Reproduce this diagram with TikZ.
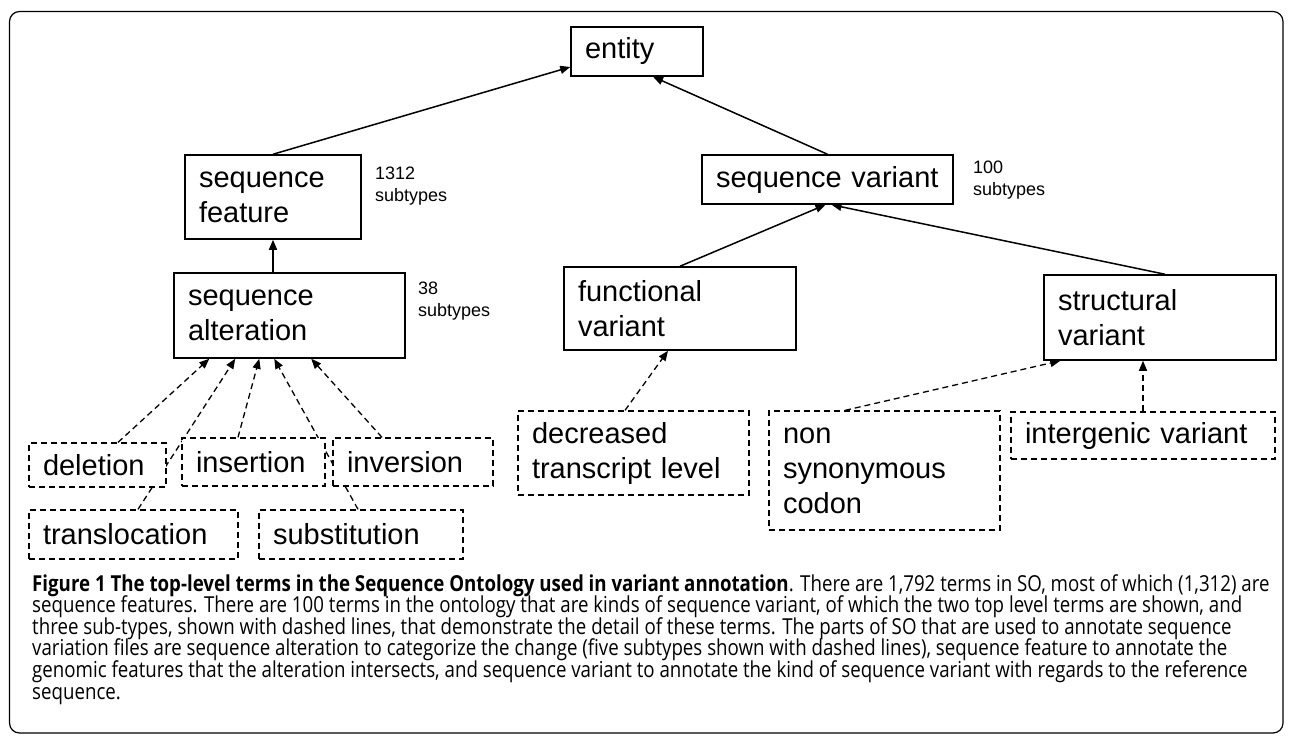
\documentclass[tikz,border=0pt]{standalone}
\usepackage{fontspec}
\setmainfont{Liberation Sans}
\newfontfamily\capfont[FakeStretch=0.85]{Open Sans}
\usetikzlibrary{arrows.meta,calc}
\pgfdeclarelayer{bg}
\pgfsetlayers{bg,main}
\newlength\capw
\begin{document}
\settowidth\capw{\capfont\fontsize{10}{12}\selectfont sequence features. There are 100 terms in the ontology that are kinds of sequence variant, of which the two top level terms are shown, and}%
\pgfmathsetmacro\capsize{10*1210/\capw}%
\begin{tikzpicture}[x=1pt,y=-1pt,
  term/.style={draw=black, fill=white, line width=1.5pt, rectangle, inner xsep=14pt, inner ysep=0pt, align=left, font=\fontsize{29}{35}\selectfont, anchor=center},
  dterm/.style={term, dash pattern=on 6pt off 4pt, line width=1.3pt},
  isa/.style={line width=1.5pt, -{Triangle[length=10pt,width=8pt]}},
  disa/.style={line width=1.3pt, dash pattern=on 6pt off 4pt, -{Triangle[length=10pt,width=8pt]}},
  count/.style={font=\fontsize{18}{22}\selectfont, align=left, anchor=west, inner sep=0pt},
  capline/.style={anchor=base west, inner sep=0pt, font=\capfont\fontsize{\capsize}{22}\selectfont}
]
\useasboundingbox (0,0) rectangle (1290,736);

% frame
\draw[line width=1.2pt, rounded corners=10pt] (9.5,11.5) rectangle (1283,733);

% terms
\node[term, text width=104pt, minimum height=49pt] (entity) at (637,51.5) {entity};
\node[term, text width=148pt, minimum height=84pt] (seqfeat) at (273,197) {sequence\\feature};
\node[term, text width=203pt, minimum height=85pt] (seqalt) at (289.5,315.5) {sequence\\alteration};
\node[term, text width=223pt, minimum height=49pt] (seqvar) at (827.5,179.5) {sequence variant};
\node[term, text width=204pt, minimum height=83pt] (funcvar) at (680,308.5) {functional\\variant};
\node[term, text width=204pt, minimum height=85pt] (structvar) at (1160,317.5) {structural\\variant};

\node[dterm, text width=109pt, minimum height=44pt] (deletion) at (97.5,465) {deletion};
\node[dterm, text width=115pt, minimum height=48pt] (insertion) at (253.5,462) {insertion};
\node[dterm, text width=132pt, minimum height=48pt] (inversion) at (413,462) {inversion};
\node[dterm, text width=181pt, minimum height=49pt] (transloc) at (133.5,534.5) {translocation};
\node[dterm, text width=176pt, minimum height=49pt] (subst) at (361,534.5) {substitution};
\node[dterm, text width=203pt, minimum height=84pt] (decreased) at (633.5,453) {decreased\\transcript level};
\node[dterm, text width=203pt, minimum height=119pt] (nonsyn) at (884.5,470.5) {non\\synonymous\\codon};
\node[dterm, text width=236pt, minimum height=47pt] (intergenic) at (1143,435.5) {intergenic variant};

% counts
\node[count] (c1312) at (375,186) {1312\\subtypes};
\node[count] (c38) at (418,301) {38\\subtypes};
\node[count] (c100) at (973,180) {100\\subtypes};

% edges
\begin{pgfonlayer}{bg}
\draw[isa] (seqfeat.north) -- ([yshift=-15.5pt]entity.west);
\draw[isa] (seqvar.north) -- ([xshift=16pt]entity.south);
\draw[isa] (funcvar.north) -- ([xshift=-2pt]seqvar.south);
\draw[isa] ([xshift=5pt]structvar.north) -- ([xshift=4pt]seqvar.south);
\draw[isa] (seqalt.north -| seqfeat.south) -- (seqfeat.south);
\draw[disa] ([xshift=20.5pt]deletion.north) -- ([xshift=36pt]seqalt.south west);
\draw[disa] ([xshift=4.5pt]transloc.north) -- ([xshift=62pt]seqalt.south west);
\draw[disa] ([xshift=-15.5pt]insertion.north) -- ([xshift=86pt]seqalt.south west);
\draw[disa] ([xshift=-3pt]subst.north) -- ([xshift=101pt]seqalt.south west);
\draw[disa] ([xshift=-31pt]inversion.north) -- ([xshift=138pt]seqalt.south west);
\draw[disa] ([xshift=-8.5pt]decreased.north) -- ([xshift=-12pt]funcvar.south);
\draw[disa] ([xshift=-39.5pt]nonsyn.north) -- ([xshift=17pt]structvar.south west);
\draw[disa] (intergenic.north) -- (intergenic.north |- structvar.south);
\end{pgfonlayer}

% caption
\node[capline] (cap1) at (32,591) {{\bfseries Figure 1 The top-level terms in the Sequence Ontology used in variant annotation}. There are 1,792 terms in SO, most of which (1,312) are};
\node[capline] (cap2) at (32,612.6) {sequence features. There are 100 terms in the ontology that are kinds of sequence variant, of which the two top level terms are shown, and};
\node[capline] (cap3) at (32,634.2) {three sub-types, shown with dashed lines, that demonstrate the detail of these terms. The parts of SO that are used to annotate sequence};
\node[capline] (cap4) at (32,655.8) {variation files are sequence alteration to categorize the change (five subtypes shown with dashed lines), sequence feature to annotate the};
\node[capline] (cap5) at (32,677.4) {genomic features that the alteration intersects, and sequence variant to annotate the kind of sequence variant with regards to the reference};
\node[capline] (cap6) at (32,699) {sequence.};
\end{tikzpicture}
\end{document}
